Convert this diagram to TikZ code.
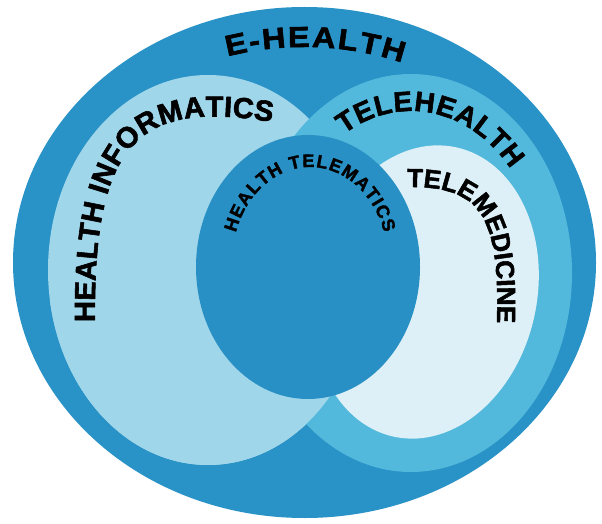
\documentclass[tikz,border=0pt]{standalone}
\usepackage{fontspec}
\usetikzlibrary{decorations.text}
\newfontfamily\lbf[FakeBold=2]{Liberation Sans Bold}
\newfontfamily\lbw[FakeBold=2,FakeStretch=1.12]{Liberation Sans Bold}
\definecolor{ehealth}{RGB}{41,146,198}
\definecolor{hinf}{RGB}{160,214,234}
\definecolor{thealth}{RGB}{82,184,220}
\definecolor{tmed}{RGB}{222,240,247}
\definecolor{htel}{RGB}{40,144,196}
\tikzset{
  arctext/.style={decorate, decoration={text along path, text align={fit to path}, text color=black}}
}
\begin{document}
\begin{tikzpicture}[x=1pt,y=1pt]
\fill[white] (0,0) rectangle (602,523);
\useasboundingbox (0,0) rectangle (602,523);
\coordinate (cE) at (304.5,260.5);
\coordinate (cHI) at (208,253);
\coordinate (cTH) at (411,250);
\coordinate (cTM) at (425,231);
\coordinate (cHT) at (308,256);
% shapes
\fill[ehealth] (cE) ellipse [x radius=291.5, y radius=255.5];
\fill[hinf] (cHI) ellipse [x radius=160, y radius=195];
\fill[thealth] (cTH) ellipse [x radius=161, y radius=199];
\begin{scope}
  \clip (0,0) rectangle (602,223);
  \fill[hinf] (cHI) ellipse [x radius=160, y radius=195];
\end{scope}
\fill[tmed, rotate around={-12:(cTM)}] (cTM) ellipse [x radius=112, y radius=148];
\fill[htel] (cHT) ellipse [x radius=112, y radius=132];
% texts
\path[arctext, decoration={text={|\lbw\fontsize{29}{29}\selectfont|E-HEALTH}}]
  ([shift={(107:262 and 215)}]304,261) arc [start angle=107, end angle=68, x radius=262, y radius=215];
\coordinate (hiA) at (95,201);
\coordinate (hiB) at (272,401);
\path[arctext, decoration={text={|\lbf\fontsize{29}{29}\selectfont|HEALTH INFORMATICS}}]
  (hiA) .. controls (93,383) and (140,423) .. (hiB);
\path[arctext, decoration={text={|\lbf\fontsize{28}{28}\selectfont|TELEHEALTH}}]
  ([shift={(121:130 and 162)}]cTH) arc [start angle=121, end angle=40, x radius=130, y radius=162];
\coordinate (tmA) at (407,336);
\coordinate (tmB) at (497,200);
\path[arctext, decoration={text={|\lbf\fontsize{26}{26}\selectfont|TELEMEDICINE}}]
  (tmA) .. controls (480,337) and (500,308) .. (tmB);
\path[arctext, decoration={text={|\lbf\fontsize{18}{18}\selectfont|HEALTH TELEMATICS}}]
  ([shift={(162:78 and 95)}]310,261) arc [start angle=162, end angle=18, x radius=78, y radius=95];
\end{tikzpicture}
\end{document}
